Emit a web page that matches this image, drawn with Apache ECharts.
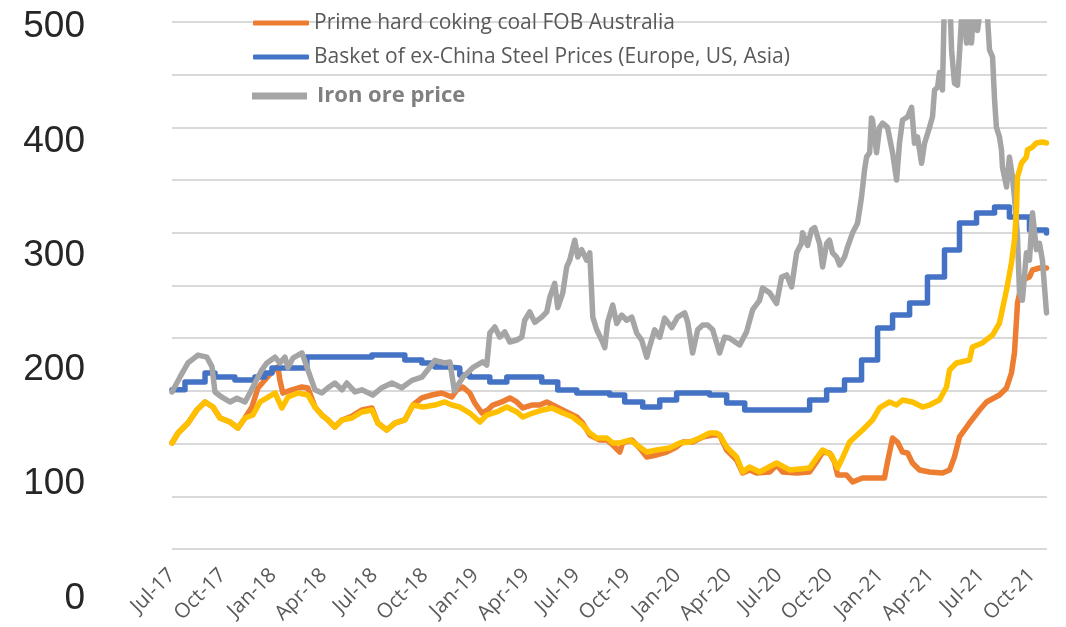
<!DOCTYPE html>
<html>
<head>
<meta charset="UTF-8">
<title>Coking coal, steel and iron ore prices</title>
<script src="https://cdn.jsdelivr.net/npm/echarts@6/dist/echarts.min.js"></script>
<style>
  html, body { margin: 0; padding: 0; width: 100%; height: 100%; background: #fff; }
  #chart { width: 1066px; height: 627px; }
</style>
</head>
<body>
<div id="chart"></div>
<script type="text/javascript">
// x = months since Jul-17, y = price index
var xTickLabels = ['Jul-17','Oct-17','Jan-18','Apr-18','Jul-18','Oct-18','Jan-19','Apr-19','Jul-19',
                   'Oct-19','Jan-20','Apr-20','Jul-20','Oct-20','Jan-21','Apr-21','Jul-21','Oct-21'];

var cokingCoalFob = [
  [0,100.6],[0.36,110],[0.95,119.5],[1.48,132],[1.96,139.5],[2.43,134.7],[2.85,124.3],[3.44,120.5],
  [3.91,114.8],[4.33,124.3],[4.74,134.7],[5.10,152.8],[5.51,160.3],[5.93,168],[6.28,172.7],[6.40,160.3],
  [6.58,148],[7.11,151],[7.71,153.7],[8.06,152.8],[8.48,134.7],[8.89,127.1],[9.25,122.4],[9.66,115.8],
  [10.08,122.4],[10.67,126],[11.26,131.9],[11.86,133.8],[12.21,119.5],[12.74,112.9],[13.22,119.5],
  [13.81,122.4],[14.29,136.6],[14.82,143.3],[15.41,146.1],[16.00,148],[16.60,144.2],[16.89,150.9],
  [17.25,153.7],[17.66,148],[17.96,138.5],[18.38,129],[18.73,131.9],[19.03,136.6],[19.56,139.5],
  [20.04,143.3],[20.45,139.5],[20.81,133.8],[21.34,136.6],[21.81,136.6],[22.23,139.5],[22.82,134.7],
  [23.41,130],[24.01,125.2],[24.36,119.5],[24.78,108.2],[25.37,103.4],[25.79,103.4],[26.14,98.7],
  [26.56,92],[26.73,100.6],[27.27,103.4],[27.74,95.8],[28.16,87.3],[28.75,89.2],[29.34,92],[29.93,96.8],
  [30.29,101.5],[30.88,101.5],[31.48,106.3],[32.07,108.2],[32.48,108.2],[32.90,93.9],[33.49,84.4],
  [33.85,72.1],[34.26,75],[34.68,72.1],[35.45,73.1],[35.86,79.7],[36.22,73.1],[37.05,72.1],[37.82,73.1],
  [38.23,82.5],[38.59,92],[39.00,91.1],[39.30,82.5],[39.48,70.2],[40.01,70.2],[40.37,63.6],[40.96,67.4],
  [41.79,67.4],[42.26,67.4],[42.44,82.5],[42.74,105.3],[43.03,101.5],[43.33,92],[43.63,91.1],[43.92,81.6],
  [44.34,75],[44.93,73.1],[45.70,72.1],[46.12,75],[46.41,87.3],[46.71,106.3],[47.30,119.5],[47.90,131.9],
  [48.31,139.5],[49.08,146.1],[49.50,152.8],[49.79,167],[49.97,186],[50.09,217.3],[50.15,233.4],
  [50.44,255.2],[50.86,258.1],[51.04,264.7],[51.45,266.6],[51.87,266.6]
];

// step series: each point starts a new level
var steelBasket = [
  [0,151],[0.77,158.4],[1.96,167],[2.55,163.2],[3.73,160.3],[4.92,163.2],[5.51,167],[5.93,171.7],
  [8.00,182.2],[11.86,184.1],[13.81,179.3],[14.82,176.5],[15.59,172.7],[16.36,171.7],[17.07,165.1],
  [17.66,163.2],[18.85,158.4],[19.86,163.2],[21.93,158.4],[22.88,150.9],[24.01,148],[25.96,146.1],
  [26.85,139.5],[27.92,134.7],[28.93,141.4],[29.93,148],[31.89,146.1],[32.90,138.5],[33.97,131.9],
  [37.82,141.4],[38.83,150.9],[39.89,160.3],[40.90,179.3],[41.85,209.7],[42.74,222],[43.75,233.4],
  [44.81,258.1],[45.82,283.7],[46.71,309.3],[47.72,318.8],[48.79,324.5],[49.67,315],[50.86,302.7],
  [51.87,299.8]
];

var ironOre = [
  [0,149],[0.47,163],[0.95,176.5],[1.54,184],[2.07,182],[2.37,173],[2.55,149],[2.96,144],[3.44,139.5],
  [3.85,143],[4.33,139.5],[4.62,148],[4.92,157.5],[5.33,170],[5.63,176.5],[6.11,182],[6.40,176.5],
  [6.70,182],[6.88,172],[7.17,181],[7.71,186],[8.06,170],[8.48,151],[8.89,148],[9.25,153],[9.66,157.5],
  [10.08,151],[10.37,157.5],[10.85,149],[11.26,151],[11.91,146],[12.45,153],[13.04,157.5],[13.63,153],
  [14.23,160],[14.82,163],[15.17,170],[15.59,179],[16.18,176.5],[16.48,177.5],[16.75,150],[17.25,163],
  [17.84,172],[18.43,177.5],[18.67,174.6],[18.85,205],[19.15,210.6],[19.44,201],[19.74,206],[20.04,196.4],
  [20.45,198.3],[20.75,201],[20.92,217],[21.22,225],[21.52,215],[21.93,220],[22.23,225],[22.41,239],
  [22.70,252],[22.88,229],[23.18,243],[23.41,267.6],[23.59,274],[23.89,293],[24.07,277],[24.30,284],
  [24.60,274],[24.78,281],[24.96,220],[25.19,208],[25.49,198],[25.67,191],[25.84,215],[26.14,231.5],
  [26.38,214],[26.67,222],[26.97,217],[27.27,220],[27.56,205],[27.86,198],[28.16,182],[28.33,192],
  [28.63,208],[28.93,201],[29.22,219],[29.64,210],[29.99,220],[30.41,224],[30.59,215],[30.88,186],
  [31.18,208],[31.48,212.5],[31.77,212.5],[32.07,208],[32.48,186],[32.78,201],[33.08,200],[33.49,195.5],
  [33.67,193.6],[34.08,206],[34.44,227],[34.85,236],[35.03,247.6],[35.45,243],[35.86,233],[36.16,258],
  [36.46,260],[36.75,248.6],[37.05,281],[37.34,290],[37.40,300],[37.70,288],[37.94,303],[38.12,305],
  [38.41,290],[38.59,267.6],[38.83,290],[39.00,293],[39.18,281],[39.42,277],[39.60,269.5],[39.89,277],
  [40.07,286.5],[40.37,300],[40.66,309],[40.90,334],[41.08,360],[41.20,372],[41.38,376],[41.49,409],
  [41.55,407],[41.79,376],[41.97,400],[42.15,404],[42.44,400],[42.74,376],[42.98,350],[43.15,385],
  [43.33,407],[43.63,410],[43.87,419],[44.04,385],[44.22,391],[44.46,366],[44.64,385],[44.93,400],
  [45.11,410],[45.23,435.5],[45.41,438],[45.52,452],[45.70,435.5],[45.82,525],[46.12,530],[46.24,473.5],
  [46.41,442],[46.59,440],[46.71,470.6],[46.89,520],[47.13,480],[47.18,520],[47.42,480],[47.60,525],
  [47.78,492],[48.01,520],[48.31,520],[48.49,473.5],[48.67,467],[48.79,426],[48.90,400],[49.08,391],
  [49.20,378.6],[49.26,362],[49.50,343.5],[49.67,372],[49.85,353],[49.97,334],[50.15,296],[50.27,243],
  [50.44,236],[50.68,281],[50.86,274],[51.04,319],[51.27,284],[51.45,290],[51.63,274],[51.87,224]
];

var cokingCoalCfr = [
  [0,100.6],[0.36,110],[0.95,119.5],[1.48,132],[1.96,139.5],[2.43,134.7],[2.85,124.3],[3.44,120.5],
  [3.91,114.8],[4.33,124.3],[4.80,127.1],[5.22,139.5],[5.63,143.3],[6.11,148],[6.52,133.8],[6.88,144.2],
  [7.47,148],[8.06,146.1],[8.48,134.7],[8.89,127.1],[9.25,122.4],[9.66,115.8],[10.08,122.4],[10.67,124.3],
  [11.26,130],[11.86,131.9],[12.21,119.5],[12.74,112.9],[13.22,119.5],[13.81,122.4],[14.29,136.6],
  [14.88,134.7],[15.59,136.6],[16.18,139.5],[16.60,136.6],[17.07,134.7],[17.66,129],[18.26,120.5],
  [18.67,127.1],[19.26,130],[19.86,134.7],[20.45,130],[20.81,125.2],[21.40,129],[21.99,131.9],
  [22.53,133.8],[23.18,129],[23.77,125.2],[24.36,117.7],[24.78,110.1],[25.19,105.3],[25.79,105.3],
  [26.14,100.6],[26.56,100.6],[27.15,103.4],[27.74,96.8],[28.16,92],[28.75,93.9],[29.52,95.8],
  [30.11,100.6],[30.71,101.5],[31.30,105.3],[31.89,110.1],[32.31,110.1],[32.48,108.2],[32.90,96.8],
  [33.49,87.3],[33.85,73.1],[34.26,77.8],[34.85,73.1],[35.86,81.6],[36.63,75],[37.82,76.9],[38.23,86.3],
  [38.59,93.9],[39.12,89.2],[39.48,76.9],[39.71,84.4],[40.19,101.5],[40.96,112.9],[41.55,122.4],
  [41.97,133.8],[42.56,139.5],[42.98,136.6],[43.33,141.4],[43.92,139.5],[44.52,134.7],[44.93,136.6],
  [45.52,141.4],[45.94,153.7],[46.12,169.8],[46.53,176.5],[47.30,179.3],[47.48,191.7],[48.07,195.5],
  [48.67,203],[49.08,214.4],[49.50,245.7],[49.79,271.4],[49.97,293.2],[50.09,321.6],[50.15,353],
  [50.39,366.2],[50.68,371.9],[50.74,378.6],[51.04,381.4],[51.27,385.2],[51.63,386.2],[51.87,385.2]
];

var xEnd = 51.9;
var font = "'Open Sans', sans-serif";

var chart = echarts.init(document.getElementById('chart'));
var lineBase = { type: 'line', showSymbol: false, symbol: 'none', xAxisIndex: 0, yAxisIndex: 0 };
function mkLine(name, data, color, extra) {
  var s = Object.assign({}, lineBase, {
    name: name, data: data, color: color,
    lineStyle: { width: 5.5, color: color, cap: 'round', join: 'round' }
  });
  return Object.assign(s, extra || {});
}

var option = {
  animation: false,
  backgroundColor: '#fff',
  grid: [
    { left: 172, right: 19, top: 22, bottom: 78 },      // gridlines + data
    { left: 172, right: 19, top: 27, bottom: 28.5 }     // left labels
  ],
  xAxis: [
    {
      gridIndex: 0, type: 'value', min: 0, max: xEnd, interval: 3,
      axisLine: { show: false }, axisTick: { show: false }, splitLine: { show: false },
      axisLabel: {
        rotate: 45, margin: 23, fontSize: 20.5, color: '#595959', fontFamily: font,
        showMaxLabel: false,
        formatter: function (v) { return v % 3 === 0 ? (xTickLabels[v / 3] || '') : ''; }
      }
    },
    { gridIndex: 1, type: 'value', min: 0, max: xEnd, show: false }
  ],
  yAxis: [
    {
      gridIndex: 0, type: 'value', min: 0, max: 500, interval: 50,
      axisLine: { show: false }, axisTick: { show: false }, axisLabel: { show: false },
      splitLine: { show: true, lineStyle: { color: '#d9d9d9', width: 2 } }
    },
    {
      gridIndex: 1, type: 'value', min: 0, max: 500, interval: 100,
      axisLine: { show: false }, axisTick: { show: false }, splitLine: { show: false },
      axisLabel: { margin: 87, fontSize: 37, color: '#262626', fontFamily: "'Liberation Sans', Arial, sans-serif" }
    }
  ],
  legend: [
    {
      left: 253, top: 11, padding: 0, itemWidth: 56, itemHeight: 5,
      data: [{ name: 'Prime hard coking coal FOB Australia', icon: 'roundRect' }],
      textStyle: { fontFamily: font, fontSize: 21, color: '#595959', lineHeight: 24 }
    },
    {
      left: 253, top: 45, padding: 0, itemWidth: 56, itemHeight: 5,
      data: [{ name: 'Basket of ex-China Steel Prices (Europe, US, Asia)', icon: 'roundRect' }],
      textStyle: { fontFamily: font, fontSize: 21, color: '#595959', lineHeight: 24 }
    },
    {
      left: 252, top: 84, padding: 0, itemWidth: 55, itemHeight: 7,
      data: [{ name: 'Iron ore price', icon: 'rect' }],
      textStyle: { fontFamily: font, fontSize: 22, fontWeight: 'bold', color: '#808080', lineHeight: 24, padding: [0, 0, 0, 5] }
    }
  ],
  series: [
    mkLine('Prime hard coking coal FOB Australia', cokingCoalFob, '#ED7D31'),
    mkLine('Basket of ex-China Steel Prices (Europe, US, Asia)', steelBasket, '#4472C4', { step: 'end' }),
    mkLine('Iron ore price', ironOre, '#A5A5A5'),
    mkLine('Prime hard coking coal CFR China', cokingCoalCfr, '#FFC000')
  ]
};
chart.setOption(option);
</script>
</body>
</html>
